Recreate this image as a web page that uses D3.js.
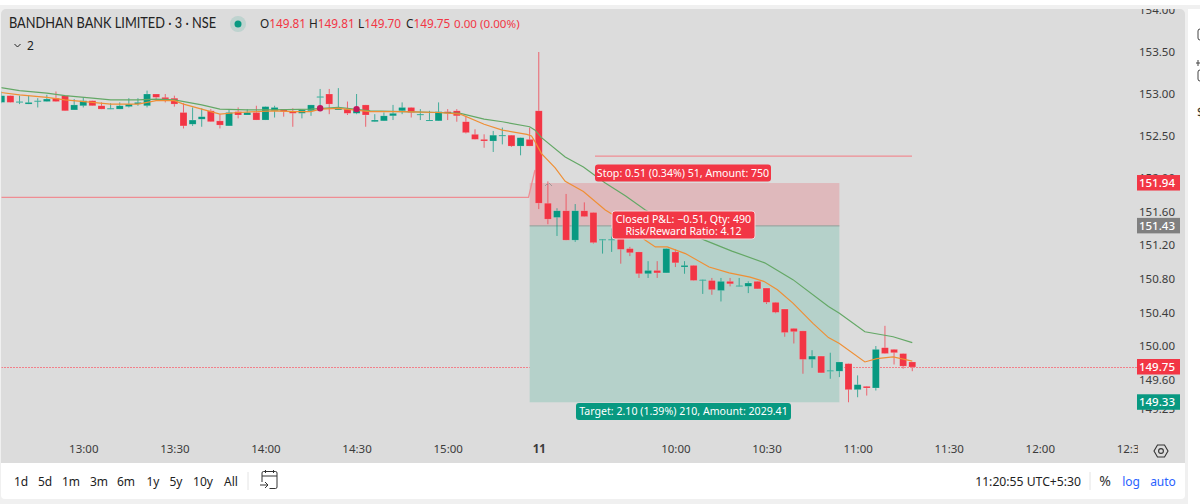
<!DOCTYPE html>
<html>
<head>
<meta charset="utf-8">
<script src="https://cdn.jsdelivr.net/npm/d3@7"></script>
<style>
  html, body { margin: 0; padding: 0; background: #f0f0f0; }
  svg { display: block; }
  text { font-family: "Noto Sans", sans-serif; }
  .domain { display: none; }
</style>
</head>
<body>
<svg id="chart" width="1200" height="504"></svg>
<script>
// candles are 3 minute bars; slot 0 is the 09:15 open of the 11th
const firstSlot = -59;
const opens = [152.90,152.98,152.90,152.88,152.91,152.91,152.95,152.98,152.81,152.86,152.92,152.86,152.82,152.82,152.85,152.88,152.86,153.00,152.96,152.95,
  152.78,152.64,152.70,152.80,152.68,152.62,152.79,152.75,152.78,152.69,152.80,152.82,152.79,152.77,152.80,152.96,153.00,152.81,152.82,152.77,
  152.87,152.67,152.68,152.74,152.80,152.84,152.75,152.68,152.68,152.79,152.80,152.67,152.52,152.46,152.44,152.50,152.51,152.38,152.46,
  152.80,151.70,151.53,151.61,151.26,151.61,151.59,151.26,151.26,151.43,151.16,151.12,150.86,150.90,150.87,151.12,150.94,150.96,150.78,150.78,
  150.66,150.77,150.71,150.71,150.77,150.69,150.52,150.44,150.21,150.18,149.84,149.88,149.70,149.70,149.79,149.48,149.52,149.50,149.98,149.96,149.91,149.81];
const highs = [153.03,152.98,152.98,152.98,152.95,152.99,153.03,152.98,152.94,152.96,152.92,152.90,152.89,152.90,152.95,152.95,153.04,153.00,153.00,152.98,
  152.89,152.84,152.83,152.82,152.76,152.82,152.84,152.82,152.86,152.85,152.86,152.82,152.83,152.81,152.87,153.06,153.06,153.07,152.91,153.00,
  152.87,152.76,152.78,152.87,152.90,152.84,152.82,152.80,152.90,152.82,152.82,152.74,152.58,152.52,152.56,152.60,152.51,152.48,152.60,
  153.50,151.96,151.64,151.81,151.69,151.71,151.59,151.27,151.40,151.43,151.18,151.12,151.01,151.01,151.16,151.15,151.01,150.96,150.79,150.81,
  150.81,150.81,150.81,150.77,150.77,150.69,150.52,150.44,150.21,150.18,149.95,149.88,149.92,149.81,149.79,149.65,149.52,150.00,150.24,149.96,149.91,149.81];
const lows = [152.89,152.90,152.88,152.88,152.84,152.91,152.91,152.80,152.81,152.84,152.86,152.82,152.82,152.82,152.84,152.86,152.84,152.92,152.90,152.85,
  152.59,152.62,152.61,152.67,152.59,152.62,152.71,152.75,152.69,152.69,152.72,152.73,152.61,152.71,152.74,152.86,152.76,152.81,152.75,152.76,
  152.61,152.67,152.68,152.69,152.76,152.72,152.69,152.68,152.68,152.69,152.67,152.53,152.46,152.36,152.31,152.40,152.37,152.27,152.38,
  151.63,151.45,151.31,151.26,151.24,151.54,151.22,151.10,151.12,150.98,151.07,150.81,150.81,150.81,150.87,150.94,150.86,150.78,150.62,150.61,
  150.53,150.71,150.71,150.63,150.68,150.50,150.39,150.11,150.03,149.67,149.74,149.68,149.61,149.63,149.33,149.39,149.41,149.47,149.91,149.78,149.73,149.70];
const closes = [152.98,152.90,152.91,152.90,152.92,152.94,152.91,152.80,152.87,152.92,152.86,152.82,152.83,152.86,152.88,152.90,153.00,152.96,152.94,152.88,
  152.62,152.69,152.73,152.67,152.63,152.78,152.75,152.78,152.69,152.85,152.84,152.79,152.77,152.81,152.87,152.97,152.88,152.83,152.77,152.81,
  152.75,152.69,152.74,152.77,152.84,152.78,152.76,152.69,152.79,152.77,152.74,152.54,152.46,152.44,152.51,152.51,152.38,152.48,152.38,
  151.70,151.51,151.61,151.26,151.61,151.54,151.23,151.27,151.27,151.15,151.11,150.86,150.90,150.87,151.16,150.99,150.96,150.78,150.79,150.67,
  150.77,150.74,150.72,150.75,150.68,150.52,150.40,150.16,150.17,149.84,149.88,149.68,149.71,149.81,149.48,149.54,149.50,149.96,149.91,149.92,149.76,149.75];

const slowSlots = [-59.2,-57,-54,-52,-49,-47,-44,-42,-40,-37,-35,-32,-29,-25,-22,-18.5,-15,-11,-8.6,-6,-4,-1,-0.4,0.3,2.9,4.9,7.3,9.5,11.7,18.2,21.2,24.8,27.9,31.8,33,35.8,38.9,41];
const slowEma = [153.08,153.04,153.01,152.98,152.95,152.93,152.93,152.94,152.93,152.87,152.82,152.81,152.81,152.82,152.84,152.80,152.79,152.78,152.77,152.70,152.67,152.61,152.57,152.48,152.25,152.13,151.94,151.79,151.62,151.26,151.13,150.99,150.79,150.47,150.39,150.17,150.11,150.04];
const fastSlots = [-59.2,-57,-54,-52,-49,-47,-44,-42,-40,-39,-37,-35,-33,-29,-27,-25,-24,-22,-18.5,-15,-11,-8.6,-6,-4,-1.3,-0.8,-0.4,0.3,1.8,2.9,4.9,7.3,9.1,11.7,12.8,14.1,16.1,18.7,20.9,23.2,24.7,26.2,27.9,30.1,31.8,33,35.8,37.1,38.9,41];
const fastEma = [153.02,152.99,152.96,152.93,152.90,152.88,152.88,152.92,152.92,152.88,152.82,152.76,152.78,152.80,152.79,152.79,152.82,152.83,152.79,152.79,152.78,152.76,152.64,152.57,152.52,152.50,152.43,152.29,152.12,151.96,151.84,151.62,151.50,151.26,151.18,151.18,151.10,150.94,150.87,150.82,150.77,150.67,150.51,150.27,150.10,150.03,149.81,149.85,149.87,149.82];

const priceTicks = [154, 153.5, 153, 152.5, 152, 151.6, 151.2, 150.8, 150.4, 150, 149.6, 149.25];
const timeSlots = [-50, -40, -30, -20, -10, 0, 15, 25, 35, 45, 55, 65];
const timeLabels = ['13:00', '13:30', '14:00', '14:30', '15:00', '11', '10:00', '10:30', '11:00', '11:30', '12:00', '12:30'];
const rangeLabels = ['1d', '5d', '1m', '3m', '6m', '1y', '5y', '10y', 'All'];
const markerSlots = [-24, -20];
const markerPrices = [152.83, 152.82];

const entryPrice = 151.43, stopPrice = 151.94, targetPrice = 149.33, lastPrice = 149.75;
const tradeStart = -1, tradeEnd = 33;
const stopLinePrice = 152.26, prevLinePrice = 151.77;

const UP = '#089981', DOWN = '#f23645', PANE = '#dcdcdc';

const x = d3.scaleLinear().domain([-59, 65]).range([1.3, 1130.9]);
const y = d3.scaleLinear().domain([149, 154]).range([430, 10]);

const svg = d3.select('#chart');

// page panels
svg.append('rect').attr('width', 1200).attr('height', 5).attr('fill', '#fff');
svg.append('rect').attr('x', 1188).attr('y', 9).attr('width', 12).attr('height', 495).attr('fill', '#fff');
svg.append('rect').attr('x', 1).attr('y', 9).attr('width', 1184).attr('height', 470).attr('rx', 5).attr('fill', PANE);
svg.append('rect').attr('x', 1).attr('y', 463).attr('width', 1184).attr('height', 36).attr('rx', 4).attr('fill', '#fff');
svg.append('rect').attr('x', 1).attr('y', 463).attr('width', 1184).attr('height', 10).attr('fill', '#fff');

const defs = svg.append('defs');
defs.append('clipPath').attr('id', 'plot').append('rect').attr('x', 1.5).attr('y', 9).attr('width', 1184).attr('height', 430);
defs.append('clipPath').attr('id', 'axisClip').append('rect').attr('x', 1.5).attr('y', 9).attr('width', 1136.5).attr('height', 454);

const plot = svg.append('g').attr('clip-path', 'url(#plot)');

// last price dotted line
const lastY = Math.round(y(lastPrice)) + 0.5;
plot.append('line').attr('x1', 1).attr('x2', 1137)
  .attr('y1', lastY).attr('y2', lastY)
  .attr('stroke', '#f2808a').attr('stroke-dasharray', '2 1');

// position tool, target and stop zones
plot.append('rect').attr('x', x(tradeStart)).attr('width', x(tradeEnd) - x(tradeStart))
  .attr('y', y(stopPrice)).attr('height', y(entryPrice) - y(stopPrice)).attr('fill', '#dfb9bc');
plot.append('rect').attr('x', x(tradeStart)).attr('width', x(tradeEnd) - x(tradeStart))
  .attr('y', y(entryPrice)).attr('height', y(targetPrice) - y(entryPrice)).attr('fill', '#b5d1ca');
plot.append('line').attr('x1', x(tradeStart)).attr('x2', x(tradeEnd))
  .attr('y1', y(entryPrice)).attr('y2', y(entryPrice)).attr('stroke', '#8f9d99');

// red level lines
const lineRed = '#ef8d93';
plot.append('line').attr('x1', 595).attr('x2', 912)
  .attr('y1', y(stopLinePrice)).attr('y2', y(stopLinePrice)).attr('stroke', lineRed).attr('stroke-width', 1.3);
plot.append('path')
  .attr('d', `M1,${y(prevLinePrice)}H528.5L535,170`)
  .attr('fill', 'none').attr('stroke', lineRed).attr('stroke-width', 1.3);

// candles
const candles = opens.map((o, i) => ({ slot: firstSlot + i, o, h: highs[i], l: lows[i], c: closes[i] }));
const colorOf = d => d.c >= d.o ? UP : DOWN;

const candleG = plot.append('g').selectAll('g').data(candles).join('g');
candleG.append('line')
  .attr('x1', d => x(d.slot)).attr('x2', d => x(d.slot))
  .attr('y1', d => y(d.h)).attr('y2', d => y(d.l))
  .attr('stroke', colorOf).attr('stroke-width', 1).attr('stroke-opacity', 0.72);
candleG.append('rect')
  .attr('x', d => x(d.slot) - 3.5).attr('width', 7)
  .attr('y', d => y(Math.max(d.o, d.c)))
  .attr('height', d => Math.max(1, Math.abs(y(d.o) - y(d.c))))
  .attr('fill', colorOf)
  .attr('stroke', 'rgba(255,255,255,0.28)').attr('stroke-width', 0.6);

// moving averages
const line = d3.line().curve(d3.curveLinear);
plot.append('path')
  .attr('d', line(slowSlots.map((s, i) => [x(s), y(slowEma[i])])))
  .attr('fill', 'none').attr('stroke', '#64a866').attr('stroke-width', 1.2);
plot.append('path')
  .attr('d', line(fastSlots.map((s, i) => [x(s), y(fastEma[i])])))
  .attr('fill', 'none').attr('stroke', '#ef8f35').attr('stroke-width', 1.2);

// trade markers
plot.selectAll('circle.marker').data(markerSlots).join('circle')
  .attr('class', 'marker')
  .attr('cx', d => x(d)).attr('cy', (d, i) => y(markerPrices[i]))
  .attr('r', 3.2).attr('fill', '#c2185b');

plot.append('path').attr('d', 'M545,186l2,-2l1,1M549,183l3,3')
  .attr('fill', 'none').attr('stroke', '#8d8d8d').attr('stroke-width', 0.8);

// axes
const xAxis = d3.axisBottom(x).tickValues(timeSlots).tickSize(0).tickPadding(0)
  .tickFormat((d, i) => timeLabels[i]);
const xG = svg.append('g').attr('clip-path', 'url(#axisClip)').append('g')
  .attr('transform', 'translate(0,445)').call(xAxis);
xG.selectAll('text').attr('fill', '#3b3b3b').attr('font-size', 11.5)
  .attr('font-weight', d => d === 0 ? 700 : 400);

const yAxis = d3.axisRight(y).tickValues(priceTicks).tickSize(0).tickPadding(0)
  .tickFormat(d3.format('.2f'));
const yG = svg.append('g').attr('clip-path', 'url(#plot)').append('g')
  .attr('transform', 'translate(1175,0)').call(yAxis);
yG.selectAll('text').attr('text-anchor', 'end').attr('fill', '#3b3b3b').attr('font-size', 11.5);

// price tags on the right scale
const priceTags = [
  { price: stopPrice, color: DOWN },
  { price: entryPrice, color: '#808080' },
  { price: lastPrice, color: DOWN },
  { price: targetPrice, color: UP }
];
const tagG = svg.append('g').selectAll('g').data(priceTags).join('g')
  .attr('transform', d => `translate(1137,${y(d.price)})`);
tagG.append('rect').attr('y', -8).attr('width', 43).attr('height', 15.5).attr('fill', d => d.color);
tagG.append('text').attr('x', 38).attr('y', 4).attr('text-anchor', 'end')
  .attr('fill', '#fff').attr('font-size', 11.5).attr('font-weight', 500)
  .text(d => d.price.toFixed(2));

// position labels
function tradeLabel(cx, top, w, h, color, lines, stroke) {
  const g = svg.append('g');
  g.append('rect').attr('x', cx - w / 2).attr('y', top).attr('width', w).attr('height', h).attr('rx', 3)
    .attr('fill', color).attr('stroke', stroke || 'none');
  lines.forEach((t, i) => {
    g.append('text').attr('x', cx).attr('y', top + 12 + i * 11.5).attr('text-anchor', 'middle')
      .attr('fill', '#fff').attr('font-size', 10.6).text(t);
  });
}
tradeLabel(683, 164.5, 176, 17, DOWN, ['Stop: 0.51 (0.34%) 51, Amount: 750']);
tradeLabel(683.5, 211, 143, 28, DOWN, ['Closed P&L: −0.51, Qty: 490', 'Risk/Reward Ratio: 4.12'], '#f3d6d8');
tradeLabel(683.5, 403, 215, 17, UP, ['Target: 2.10 (1.39%) 210, Amount: 2029.41']);

// legend
svg.append('text').attr('x', 9).attr('y', 28).attr('font-size', 14.5).attr('fill', '#222')
  .attr('textLength', 207).attr('lengthAdjust', 'spacingAndGlyphs')
  .style('font-family', 'Lato, sans-serif')
  .text('BANDHAN BANK LIMITED · 3 · NSE');
svg.append('circle').attr('cx', 238).attr('cy', 24).attr('r', 8).attr('fill', UP).attr('fill-opacity', 0.14);
svg.append('circle').attr('cx', 238).attr('cy', 24).attr('r', 3.5).attr('fill', UP);

const legendItems = [
  { x: 260, head: 'O', value: '149.81' },
  { x: 309, head: 'H', value: '149.81' },
  { x: 358, head: 'L', value: '149.70' },
  { x: 406, head: 'C', value: '149.75' }
];
legendItems.forEach(d => {
  const t = svg.append('text').attr('x', d.x).attr('y', 28).attr('font-size', 11.8);
  t.append('tspan').attr('fill', '#222').text(d.head);
  t.append('tspan').attr('fill', DOWN).text(d.value);
});
svg.append('text').attr('x', 454).attr('y', 28).attr('font-size', 11.6).attr('fill', DOWN).text('0.00 (0.00%)');

svg.append('path').attr('d', 'M14.5,44l3,3l3,-3').attr('fill', 'none').attr('stroke', '#222');
svg.append('text').attr('x', 27).attr('y', 49.5).attr('font-size', 12).attr('fill', '#222').text('2');

// settings hexagon in the axis corner
svg.append('path').attr('d', 'M1154,451l3.5,-6h7l3.5,6l-3.5,6h-7z')
  .attr('fill', 'none').attr('stroke', '#333').attr('stroke-width', 1.1);
svg.append('circle').attr('cx', 1161).attr('cy', 451).attr('r', 2.4)
  .attr('fill', 'none').attr('stroke', '#333').attr('stroke-width', 1.1);

// bottom toolbar
const rangeCentres = [21, 45, 71, 99, 126, 153, 176, 203, 231];
svg.append('g').selectAll('text').data(rangeLabels).join('text')
  .attr('x', (d, i) => rangeCentres[i]).attr('y', 485.5).attr('text-anchor', 'middle')
  .attr('font-size', 12).attr('fill', '#222').text(d => d);
svg.append('line').attr('x1', 248).attr('x2', 248).attr('y1', 472).attr('y2', 490).attr('stroke', '#e4e4e4');
svg.append('path').attr('d', 'M262,482v-9a1.5,1.5 0 0 1 1.5,-1.5h12a1.5,1.5 0 0 1 1.5,1.5v14a1.5,1.5 0 0 1 -1.5,1.5h-6M262,476h15M265.5,470v3M273.5,470v3M260,485h8M265,482l3,3l-3,3')
  .attr('fill', 'none').attr('stroke', '#333').attr('stroke-width', 1);

svg.append('text').attr('x', 1081).attr('y', 485.5).attr('text-anchor', 'end')
  .attr('font-size', 12.2).attr('fill', '#222').text('11:20:55 UTC+5:30');
svg.append('line').attr('x1', 1090).attr('x2', 1090).attr('y1', 472).attr('y2', 490).attr('stroke', '#e4e4e4');
svg.append('text').attr('x', 1105).attr('y', 485.5).attr('text-anchor', 'middle')
  .attr('font-size', 14).attr('fill', '#333').text('%');
svg.append('text').attr('x', 1131).attr('y', 485.5).attr('text-anchor', 'middle')
  .attr('font-size', 12).attr('fill', '#2962ff').text('log');
svg.append('text').attr('x', 1163).attr('y', 485.5).attr('text-anchor', 'middle')
  .attr('font-size', 12).attr('fill', '#2962ff').text('auto');

// clipped side toolbar on the far right
svg.append('rect').attr('x', 1198).attr('y', 29).attr('width', 8).attr('height', 11).attr('rx', 2)
  .attr('fill', 'none').attr('stroke', '#444');
svg.append('path').attr('d', 'M1196,63h5M1198,60v6').attr('fill', 'none').attr('stroke', '#444');
svg.append('rect').attr('x', 1198).attr('y', 70).attr('width', 8).attr('height', 11).attr('rx', 2)
  .attr('fill', 'none').attr('stroke', '#444');
svg.append('text').attr('x', 1197).attr('y', 117).attr('font-size', 12).attr('fill', '#333').text('$');
</script>
</body>
</html>
